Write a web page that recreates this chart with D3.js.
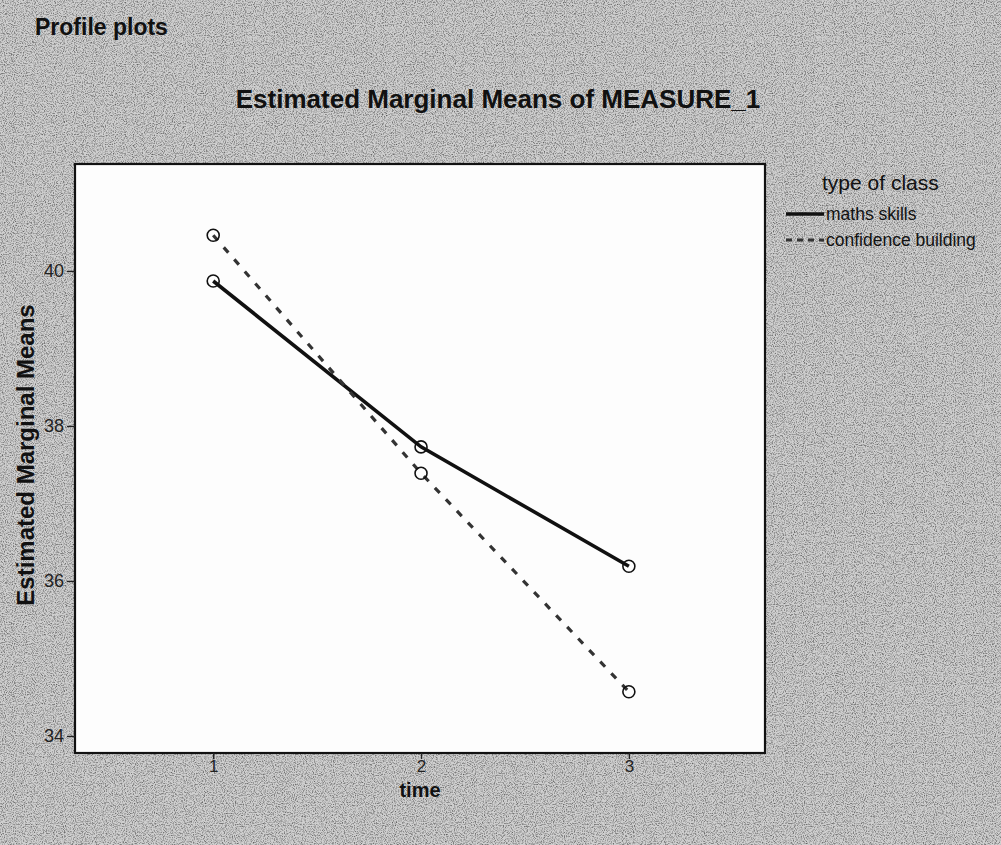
<!DOCTYPE html>
<html>
<head>
<meta charset="utf-8">
<script src="https://cdn.jsdelivr.net/npm/d3@7"></script>
<style>
  html, body { margin: 0; padding: 0; background: #b9b9b9; }
  svg { display: block; font-family: "Liberation Sans", Arial, sans-serif; }
</style>
</head>
<body>
<svg id="chart" width="1001" height="845"></svg>
<script>
// Estimated marginal means by time point for each type of class
const times = [1, 2, 3];
const mathsSkills = [39.87, 37.73, 36.19];
const confidenceBuilding = [40.46, 37.39, 34.57];
const seriesNames = ["maths skills", "confidence building"];
const yTicks = [34, 36, 38, 40];
const xTicks = [1, 2, 3];

const svg = d3.select("#chart");

// Grainy page background
const defs = svg.append("defs");
const f = defs.append("filter").attr("id", "grain").attr("x", 0).attr("y", 0)
  .attr("width", "100%").attr("height", "100%");
f.append("feTurbulence").attr("type", "fractalNoise").attr("baseFrequency", 0.9)
  .attr("numOctaves", 2).attr("seed", 3).attr("result", "n");
f.append("feColorMatrix").attr("in", "n").attr("type", "matrix")
  .attr("values", "0 0 0 0 0  0 0 0 0 0  0 0 0 0 0  0 0 0 -2.2 1.25")
  .attr("result", "a");
f.append("feComposite").attr("in", "a").attr("in2", "SourceGraphic").attr("operator", "in");

svg.append("rect").attr("width", 1001).attr("height", 845).attr("fill", "#cfcfcf");
svg.append("rect").attr("width", 1001).attr("height", 845).attr("fill", "#000")
  .attr("filter", "url(#grain)").attr("opacity", 0.55);

const plot = { left: 75, top: 164, right: 765, bottom: 753 };

const x = d3.scaleLinear().domain([0.335, 3.655]).range([plot.left, plot.right]);
const y = d3.scaleLinear().domain([33.78, 41.38]).range([plot.bottom, plot.top]);

// Plot area
svg.append("rect")
  .attr("x", plot.left).attr("y", plot.top)
  .attr("width", plot.right - plot.left).attr("height", plot.bottom - plot.top)
  .attr("fill", "#fdfdfd").attr("stroke", "#111").attr("stroke-width", 2.2);

// Axes
const yAxis = d3.axisLeft(y).tickValues(yTicks).tickSize(8).tickPadding(3).tickFormat(d3.format("d"));
const gy = svg.append("g").attr("transform", `translate(${plot.left},0)`).call(yAxis);
gy.attr("font-size", 18).attr("font-family", "Liberation Sans, Arial, sans-serif");
gy.select(".domain").remove();
gy.selectAll("line").attr("stroke", "#222").attr("stroke-width", 1.4);
gy.selectAll("text").attr("fill", "#222");

const xAxis = d3.axisBottom(x).tickValues(xTicks).tickSize(6).tickPadding(1).tickFormat(d3.format("d"));
const gx = svg.append("g").attr("transform", `translate(0,${plot.bottom})`).call(xAxis);
gx.attr("font-size", 17).attr("font-family", "Liberation Sans, Arial, sans-serif");
gx.select(".domain").remove();
gx.selectAll("line").attr("stroke", "#222").attr("stroke-width", 1.4);
gx.selectAll("text").attr("fill", "#222");

// Series lines
const line = d3.line().x((d, i) => x(times[i])).y(d => y(d));

svg.append("path").datum(mathsSkills).attr("d", line)
  .attr("fill", "none").attr("stroke", "#111").attr("stroke-width", 3.6);
svg.append("path").datum(confidenceBuilding).attr("d", line)
  .attr("fill", "none").attr("stroke", "#333").attr("stroke-width", 3.2)
  .attr("stroke-dasharray", "7,9");

// Point markers
[mathsSkills, confidenceBuilding].forEach(vals => {
  svg.append("g").selectAll("circle").data(vals).join("circle")
    .attr("cx", (d, i) => x(times[i])).attr("cy", d => y(d)).attr("r", 6)
    .attr("fill", "none").attr("stroke", "#111").attr("stroke-width", 1.6);
});

// Titles
svg.append("text").attr("x", 35).attr("y", 35).text("Profile plots")
  .attr("font-size", 23).attr("font-weight", "bold").attr("fill", "#111");
svg.append("text").attr("x", 498).attr("y", 108).attr("text-anchor", "middle")
  .text("Estimated Marginal Means of MEASURE_1")
  .attr("font-size", 26).attr("font-weight", "bold").attr("fill", "#111");
svg.append("text").attr("transform", "translate(34,455) rotate(-90)")
  .attr("text-anchor", "middle").text("Estimated Marginal Means")
  .attr("font-size", 24).attr("font-weight", "bold").attr("fill", "#111");
svg.append("text").attr("x", 420).attr("y", 797).attr("text-anchor", "middle")
  .text("time").attr("font-size", 20).attr("font-weight", "bold").attr("fill", "#111");

// Legend
const lg = svg.append("g");
lg.append("text").attr("x", 822).attr("y", 190).text("type of class")
  .attr("font-size", 21).attr("fill", "#111");
const legendStyles = [
  { stroke: "#111", width: 3.6, dash: null },
  { stroke: "#333", width: 3.2, dash: "6,5" }
];
seriesNames.forEach((name, i) => {
  const ly = 214 + i * 26;
  lg.append("line").attr("x1", 786).attr("x2", 824).attr("y1", ly).attr("y2", ly)
    .attr("stroke", legendStyles[i].stroke).attr("stroke-width", legendStyles[i].width)
    .attr("stroke-dasharray", legendStyles[i].dash);
  lg.append("text").attr("x", 826).attr("y", ly + 6).text(name)
    .attr("font-size", 17.5).attr("fill", "#111");
});
</script>
</body>
</html>
